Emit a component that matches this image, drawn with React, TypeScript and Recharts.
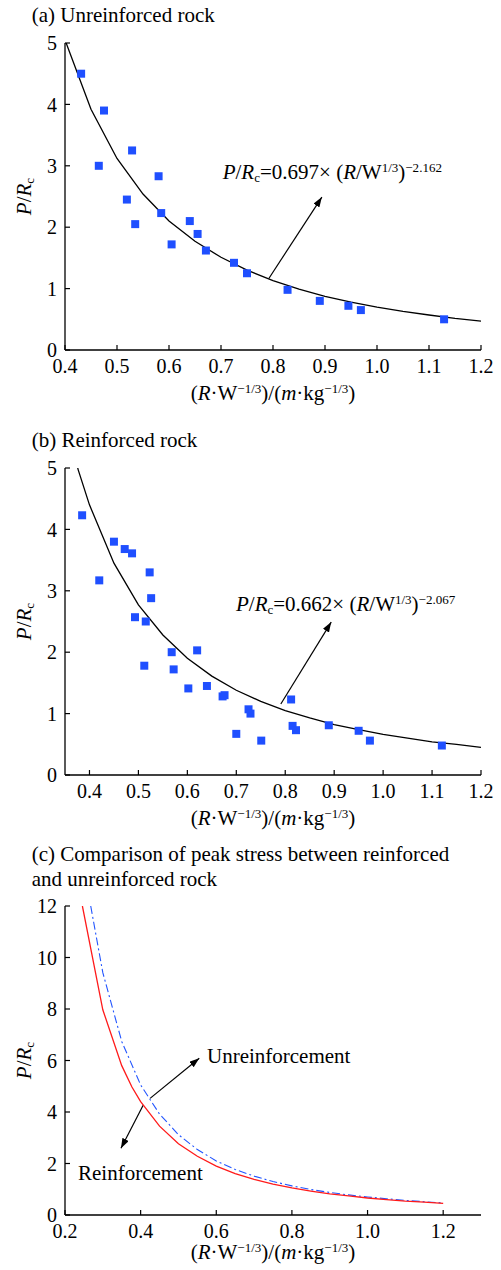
import React from 'react'
import { ScatterChart, Scatter, XAxis, YAxis, ZAxis, ReferenceLine } from 'recharts'

// (a) 未加固岩石 — 実測点
const unrX = [0.431, 0.475, 0.465, 0.529, 0.519, 0.535, 0.580, 0.585, 0.605, 0.640, 0.655, 0.671, 0.725, 0.750, 0.828, 0.890, 0.945, 0.969, 1.129]
const unrY = [4.50, 3.90, 3.00, 3.25, 2.45, 2.05, 2.83, 2.23, 1.72, 2.10, 1.89, 1.62, 1.42, 1.25, 0.98, 0.80, 0.72, 0.65, 0.50]

// (b) 加固岩石 — 実測点
const reX = [0.385, 0.420, 0.450, 0.472, 0.487, 0.523, 0.526, 0.493, 0.515, 0.512, 0.568, 0.572, 0.620, 0.602, 0.640, 0.672, 0.676, 0.700, 0.725, 0.729, 0.751, 0.812, 0.815, 0.822, 0.889, 0.950, 0.973, 1.120]
const reY = [4.23, 3.17, 3.80, 3.68, 3.61, 3.30, 2.88, 2.57, 2.50, 1.78, 2.00, 1.72, 2.03, 1.41, 1.45, 1.28, 1.30, 0.67, 1.07, 1.00, 0.56, 1.23, 0.80, 0.73, 0.81, 0.72, 0.56, 0.48]

// fitted curves
const fitUnrX = [0.268, 0.30, 0.35, 0.40, 0.45, 0.50, 0.55, 0.60, 0.65, 0.70, 0.75, 0.80, 0.85, 0.90, 0.95, 1.00, 1.05, 1.10, 1.15, 1.20]
const fitUnrY = [12.0, 9.41, 6.74, 5.05, 3.92, 3.12, 2.54, 2.10, 1.77, 1.51, 1.30, 1.13, 0.99, 0.875, 0.78, 0.70, 0.63, 0.57, 0.515, 0.47]
const fitReX = [0.246, 0.30, 0.35, 0.377, 0.40, 0.45, 0.50, 0.55, 0.60, 0.65, 0.70, 0.75, 0.80, 0.85, 0.90, 0.95, 1.00, 1.05, 1.10, 1.15, 1.20]
const fitReY = [12.0, 7.97, 5.80, 4.97, 4.40, 3.45, 2.77, 2.28, 1.90, 1.61, 1.38, 1.20, 1.05, 0.93, 0.82, 0.74, 0.66, 0.60, 0.54, 0.50, 0.45]

// ticks
const xTicksAB = [0.4, 0.5, 0.6, 0.7, 0.8, 0.9, 1.0, 1.1, 1.2]
const xTicksC = [0.2, 0.4, 0.6, 0.8, 1.0, 1.2]
const yTicksAB = [0, 1, 2, 3, 4, 5]
const yTicksC = [0, 2, 4, 6, 8, 10, 12]

const zip = (xs: number[], ys: number[]) => xs.map((x, i) => ({ x, y: ys[i] }))

const SERIF = '"Liberation Serif", "Times New Roman", serif'
const DOT = '#1f4fff'

const NoDot = () => <g />

function Arrow({ id }: { id: string }) {
  return (
    <defs>
      <marker id={id} viewBox="0 0 10 7" refX="10" refY="3.5" markerWidth="10" markerHeight="7" markerUnits="userSpaceOnUse" orient="auto">
        <path d="M0,0 L10,3.5 L0,7 z" fill="#000" />
      </marker>
    </defs>
  )
}

type PanelProps = {
  top: number
  xDomain: [number, number]
  xTicks: number[]
  yDomain: [number, number]
  yTicks: number[]
  plotH: number
  children: React.ReactNode
}

function Panel({ top, xDomain, xTicks, yDomain, yTicks, plotH, children }: PanelProps) {
  return (
    <div style={{ position: 'absolute', left: 0, top }}>
      <ScatterChart width={501} height={43 + plotH + 50} margin={{ top: 43, right: 20, bottom: 0, left: 0 }}>
        <XAxis
          type="number" dataKey="x" domain={xDomain} ticks={xTicks} allowDataOverflow
          height={50} tickSize={-5} tickMargin={14}
          tickFormatter={(v: number) => v.toFixed(1)}
          axisLine={{ stroke: '#000', strokeWidth: 1.3 }} tickLine={{ stroke: '#000', strokeWidth: 1.2 }}
          tick={{ fill: '#000', fontSize: 20, fontFamily: SERIF }}
        />
        <YAxis
          type="number" dataKey="y" domain={yDomain} ticks={yTicks} allowDataOverflow
          width={65} tickSize={-5} tickMargin={13}
          axisLine={{ stroke: '#000', strokeWidth: 1.3 }} tickLine={{ stroke: '#000', strokeWidth: 1.2 }}
          tick={{ fill: '#000', fontSize: 20, fontFamily: SERIF }}
        />
        <ZAxis range={[56, 56]} />
        {children}
      </ScatterChart>
    </div>
  )
}

const txt = (left: number, top: number, size = 21): React.CSSProperties => ({
  position: 'absolute', left, top, fontSize: size, lineHeight: `${size}px`, whiteSpace: 'nowrap', color: '#000',
})
const sup: React.CSSProperties = { fontSize: '0.62em', verticalAlign: '0.55em', lineHeight: 0 }
const sub: React.CSSProperties = { fontSize: '0.62em', verticalAlign: '-0.25em', lineHeight: 0 }

function XLabel({ baseline }: { baseline: number }) {
  return (
    <div style={{ ...txt(123, baseline - 17.6), width: 300, textAlign: 'center' }}>
      (<i>R</i>·W<span style={sup}>−1/3</span>)/(<i>m</i>·kg<span style={sup}>−1/3</span>)
    </div>
  )
}

function YLabel({ cy }: { cy: number }) {
  return (
    <div style={{ ...txt(24 - 40, cy - 10.5), width: 80, textAlign: 'center', transform: 'rotate(-90deg)' }}>
      <i>P</i>/<i>R</i><span style={sub}>c</span>
    </div>
  )
}

export default function App() {
  return (
    <div style={{ position: 'absolute', left: 0, top: 0, width: 501, height: 1270, background: '#fff', fontFamily: SERIF, overflow: 'hidden' }}>
      {/* (a) */}
      <div style={txt(31.7, 5.4)}>(a) Unreinforced rock</div>
      <Panel top={0} xDomain={[0.4, 1.2]} xTicks={xTicksAB} yDomain={[0, 5]} yTicks={yTicksAB} plotH={307}>
        <Arrow id="arrA" />
        <Scatter data={zip(fitUnrX, fitUnrY)} shape={NoDot} line={{ stroke: '#000', strokeWidth: 1.3 }} isAnimationActive={false} />
        <Scatter data={zip(unrX, unrY)} shape="square" fill={DOT} isAnimationActive={false} />
        <ReferenceLine segment={[{ x: 0.792, y: 1.165 }, { x: 0.894, y: 2.49 }]} stroke="#000" strokeWidth={1.2} markerEnd="url(#arrA)" />
      </Panel>
      <div style={txt(222.7, 162.4)}>
        <i>P</i>/<i>R</i><span style={sub}>c</span>=0.697× (<i>R</i>/W<span style={sup}>1/3</span>)<span style={sup}>−2.162</span>
      </div>
      <YLabel cy={196.3} />
      <XLabel baseline={401} />

      {/* (b) */}
      <div style={txt(31.7, 430.4)}>(b) Reinforced rock</div>
      <Panel top={425.3} xDomain={[0.35, 1.2]} xTicks={xTicksAB} yDomain={[0, 5]} yTicks={yTicksAB} plotH={307}>
        <Arrow id="arrB" />
        <Scatter data={zip(fitReX, fitReY)} shape={NoDot} line={{ stroke: '#000', strokeWidth: 1.3 }} isAnimationActive={false} />
        <Scatter data={zip(reX, reY)} shape="square" fill={DOT} isAnimationActive={false} />
        <ReferenceLine segment={[{ x: 0.791, y: 1.156 }, { x: 0.894, y: 2.49 }]} stroke="#000" strokeWidth={1.2} markerEnd="url(#arrB)" />
      </Panel>
      <div style={txt(236, 594.1)}>
        <i>P</i>/<i>R</i><span style={sub}>c</span>=0.662× (<i>R</i>/W<span style={sup}>1/3</span>)<span style={sup}>−2.067</span>
      </div>
      <YLabel cy={621.8} />
      <XLabel baseline={826} />

      {/* (c) */}
      <div style={{ ...txt(31.7, 842.4), lineHeight: '25px' }}>
        (c) Comparison of peak stress between reinforced<br />and unreinforced rock
      </div>
      <Panel top={863} xDomain={[0.2, 1.3]} xTicks={xTicksC} yDomain={[0, 12]} yTicks={yTicksC} plotH={309}>
        <Arrow id="arrC" />
        <Scatter data={zip(fitUnrX, fitUnrY)} shape={NoDot} line={{ stroke: '#2255ff', strokeWidth: 1.1, strokeDasharray: '8 3 2 3' }} isAnimationActive={false} />
        <Scatter data={zip(fitReX, fitReY)} shape={NoDot} line={{ stroke: '#ff1a1a', strokeWidth: 1.3 }} isAnimationActive={false} />
        <ReferenceLine segment={[{ x: 0.425, y: 4.53 }, { x: 0.555, y: 6.09 }]} stroke="#000" strokeWidth={1.2} markerEnd="url(#arrC)" />
        <ReferenceLine segment={[{ x: 0.407, y: 4.27 }, { x: 0.348, y: 2.59 }]} stroke="#000" strokeWidth={1.2} markerEnd="url(#arrC)" />
      </Panel>
      <div style={txt(207, 1045.7)}>Unreinforcement</div>
      <div style={txt(78, 1163.1)}>Reinforcement</div>
      <YLabel cy={1060.5} />
      <XLabel baseline={1260} />
    </div>
  )
}
